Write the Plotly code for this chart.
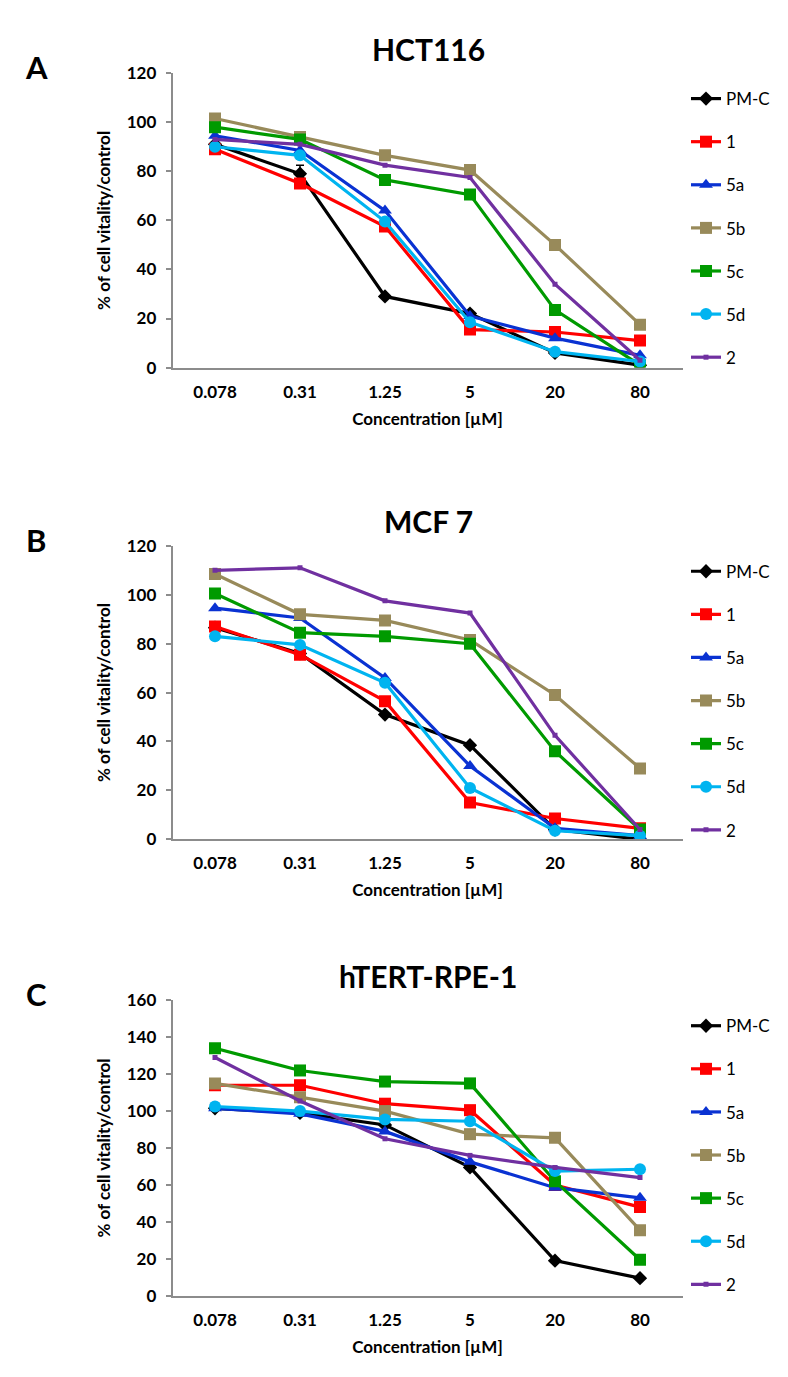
import plotly.graph_objects as go

# ---------------- data ----------------
conc = ["0.078", "0.31", "1.25", "5", "20", "80"]
names = ["PM-C", "1", "5a", "5b", "5c", "5d", "2"]

# Panel A: HCT116
a_pmc = [91, 79, 29, 22, 6, 1]
a_1 = [89, 75, 57.5, 15.5, 14.5, 11]
a_5a = [94.5, 88.5, 64, 21, 12, 5]
a_5b = [101.5, 94, 86.5, 80.5, 50, 17.5]
a_5c = [98, 93, 76.5, 70.5, 23.5, 1]
a_5d = [90, 86.5, 59.5, 18.5, 6.5, 2.5]
a_2 = [93, 91, 82.5, 77.5, 34, 3]
a_pmc_err = [0, 3.5, 0, 0, 0, 0]

# Panel B: MCF 7
b_pmc = [86.5, 76, 51, 38.5, 4, 0]
b_1 = [87, 75.5, 56.5, 15, 8.5, 4.5]
b_5a = [94.5, 90.5, 66, 30, 4.5, 1.5]
b_5b = [108.5, 92, 89.5, 81.5, 59, 29]
b_5c = [100.5, 84.5, 83, 80, 36, 4]
b_5d = [83, 79.5, 64, 21, 3.5, 1.5]
b_2 = [110, 111, 97.5, 92.5, 42.5, 4]

# Panel C: hTERT-RPE-1
c_pmc = [101.5, 99, 92.5, 69.5, 19, 9.5]
c_1 = [114, 114, 104, 100.5, 60, 48]
c_5a = [101.5, 98.5, 89, 72.5, 58.5, 53]
c_5b = [115, 107.5, 100, 87.5, 85.5, 35.5]
c_5c = [134, 122, 116, 115, 62, 19.5]
c_5d = [102.5, 100, 95.5, 94.5, 67.5, 68.5]
c_2 = [129, 105.5, 85, 76, 69.5, 64]

panel_titles = ["HCT116", "MCF 7", "hTERT-RPE-1"]
panel_letters = ["A", "B", "C"]
y_maxes = [120, 120, 160]

# ---------------- styling ----------------
W, H = 788, 1377
colors = ["#000000", "#FF0000", "#0A32D2", "#988A5A", "#009A00", "#00B4F0", "#7030A0"]
symbols = ["diamond", "square", "triangle-up", "square", "square", "circle", "square"]
sizes = [11, 12, 12, 12, 12, 12, 5]
FONT = "Lato"
AXIS_COLOR = "#8c8c8c"

x_left, x_right = 164.5, 674.5
panels_px = [(55, 354), (535, 833), (996.5, 1296.5)]  # top, bottom of plot areas

panel_data = [
    [a_pmc, a_1, a_5a, a_5b, a_5c, a_5d, a_2],
    [b_pmc, b_1, b_5a, b_5b, b_5c, b_5d, b_2],
    [c_pmc, c_1, c_5a, c_5b, c_5c, c_5d, c_2],
]
panel_err = [a_pmc_err, None, None]

fig = go.Figure()
annotations = []
layout_axes = {}

for p in range(3):
    top, bot = panels_px[p]
    suffix = "" if p == 0 else str(p + 1)
    xa = "x" + suffix
    ya = "y" + suffix
    leg = "legend" + suffix
    for i, (nm, vals) in enumerate(zip(names, panel_data[p])):
        err = None
        if i == 0 and panel_err[p] is not None:
            err = dict(type="data", array=panel_err[p], arrayminus=[0] * 6,
                       visible=True, color="#000000", thickness=1.5, width=4)
        fig.add_trace(go.Scatter(
            x=conc, y=vals, name=nm, mode="lines+markers",
            line=dict(color=colors[i], width=3.2),
            marker=dict(symbol=symbols[i], size=sizes[i], color=colors[i]),
            error_y=err,
            xaxis=xa, yaxis=ya, legend=leg, legendgroup=f"{p}_{i}",
        ))
    y0 = 1 - bot / H
    y1 = 1 - top / H
    layout_axes["xaxis" + suffix] = dict(
        domain=[x_left / W, x_right / W], anchor=ya, type="category",
        range=[-0.5, 5.5], showgrid=False, zeroline=False,
        showline=True, linecolor=AXIS_COLOR, linewidth=1.5, ticks="",
        ticklabelstandoff=8,
        tickfont=dict(family=FONT, size=17, color="#000000", weight="bold"),
        title=dict(text="Concentration [µM]", standoff=12,
                   font=dict(family=FONT, size=17, color="#000000", weight="bold")),
        fixedrange=True,
    )
    layout_axes["yaxis" + suffix] = dict(
        domain=[y0, y1], anchor=xa, range=[0, y_maxes[p]], dtick=20,
        showgrid=False, zeroline=False, showline=True, linecolor=AXIS_COLOR,
        linewidth=1.5, ticks="outside", ticklen=5, tickcolor=AXIS_COLOR,
        tickwidth=1.5, ticklabelstandoff=6,
        tickfont=dict(family=FONT, size=17, color="#000000", weight="bold"),
        title=dict(text="% of cell vitality/control", standoff=12,
                   font=dict(family=FONT, size=17, color="#000000", weight="bold")),
        fixedrange=True,
    )
    layout_axes[leg] = dict(
        x=678 / W, xanchor="left", y=1 - (top + 8) / H, yanchor="top",
        bgcolor="rgba(0,0,0,0)", borderwidth=0, tracegroupgap=18,
        font=dict(family=FONT, size=17, color="#000000"),
    )
    annotations.append(dict(
        text=panel_titles[p], x=420 / W, y=1 - (top - 25) / H,
        xref="paper", yref="paper", showarrow=False,
        xanchor="center", yanchor="middle",
        font=dict(family=FONT, size=30, color="#000000", weight="bold"),
    ))
    annotations.append(dict(
        text=panel_letters[p], x=28 / W, y=1 - (top - 6) / H,
        xref="paper", yref="paper", showarrow=False,
        xanchor="center", yanchor="middle",
        font=dict(family=FONT, size=31, color="#000000", weight="bold"),
    ))

fig.update_layout(
    width=W, height=H,
    margin=dict(l=0, r=0, t=0, b=0),
    paper_bgcolor="white", plot_bgcolor="white",
    annotations=annotations,
    showlegend=True,
    **layout_axes,
)

fig.write_html("out.html")
